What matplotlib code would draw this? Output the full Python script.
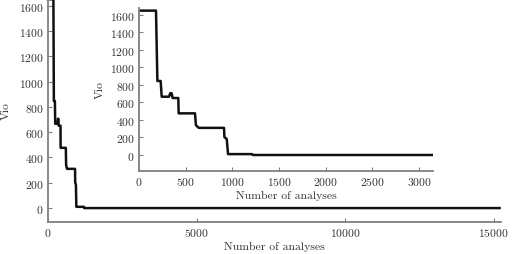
import matplotlib
matplotlib.use('Agg')
import matplotlib.pyplot as plt

plt.rcParams['font.family'] = 'cmr10'
plt.rcParams['axes.formatter.use_mathtext'] = True
plt.rcParams['font.size'] = 8.4

# Vio values (corner points of the curve)
analyses = [0, 182, 197, 232, 243, 322, 335, 350, 360, 421, 425, 600, 610, 640,
            911, 915, 940, 954, 1210, 1220, 15200]
vio = [1650, 1650, 846, 846, 666, 666, 706, 706, 651, 651, 476, 476, 340, 310,
       310, 205, 183, 10, 10, 0, 0]

main_xticks = [0, 5000, 10000, 15000]
inset_xticks = [0, 500, 1000, 1500, 2000, 2500, 3000]
yticks = [0, 200, 400, 600, 800, 1000, 1200, 1400, 1600]

line_color = '#111111'
spine_color = '#808080'


def style(ax):
    for s in ['top', 'right']:
        ax.spines[s].set_visible(False)
    for s in ['left', 'bottom']:
        ax.spines[s].set_color(spine_color)
        ax.spines[s].set_linewidth(1.3)
    ax.tick_params(direction='in', length=3, width=0.8, color=spine_color,
                   labelcolor='#333333', pad=3)


fig = plt.figure(figsize=(5.17, 2.55), dpi=100)

ax = fig.add_axes([48 / 517, 1 - 223 / 255, (501 - 48) / 517, 224 / 255])
ax.plot(analyses, vio, color=line_color, lw=1.8, clip_on=False)
ax.set_xlim(0, 15250)
ax.set_ylim(-110, 1660)
ax.set_xticks(main_xticks)
ax.set_yticks(yticks)
ax.set_xlabel('Number of analyses', labelpad=2, color='#333333')
ax.set_ylabel('Vio', labelpad=6, color='#333333')
style(ax)

ins = fig.add_axes([139 / 517, 1 - 172 / 255, (433 - 139) / 517, (172 - 9) / 255])
ins.set_facecolor('white')
ins.plot(analyses, vio, color=line_color, lw=1.8)
ins.set_xlim(0, 3150)
ins.set_ylim(-183, 1680)
ins.set_xticks(inset_xticks)
ins.set_yticks(yticks)
ins.set_xlabel('Number of analyses', labelpad=2, color='#333333')
ins.set_ylabel('Vio', labelpad=4, color='#333333')
style(ins)

fig.savefig('out.png', dpi=100)
